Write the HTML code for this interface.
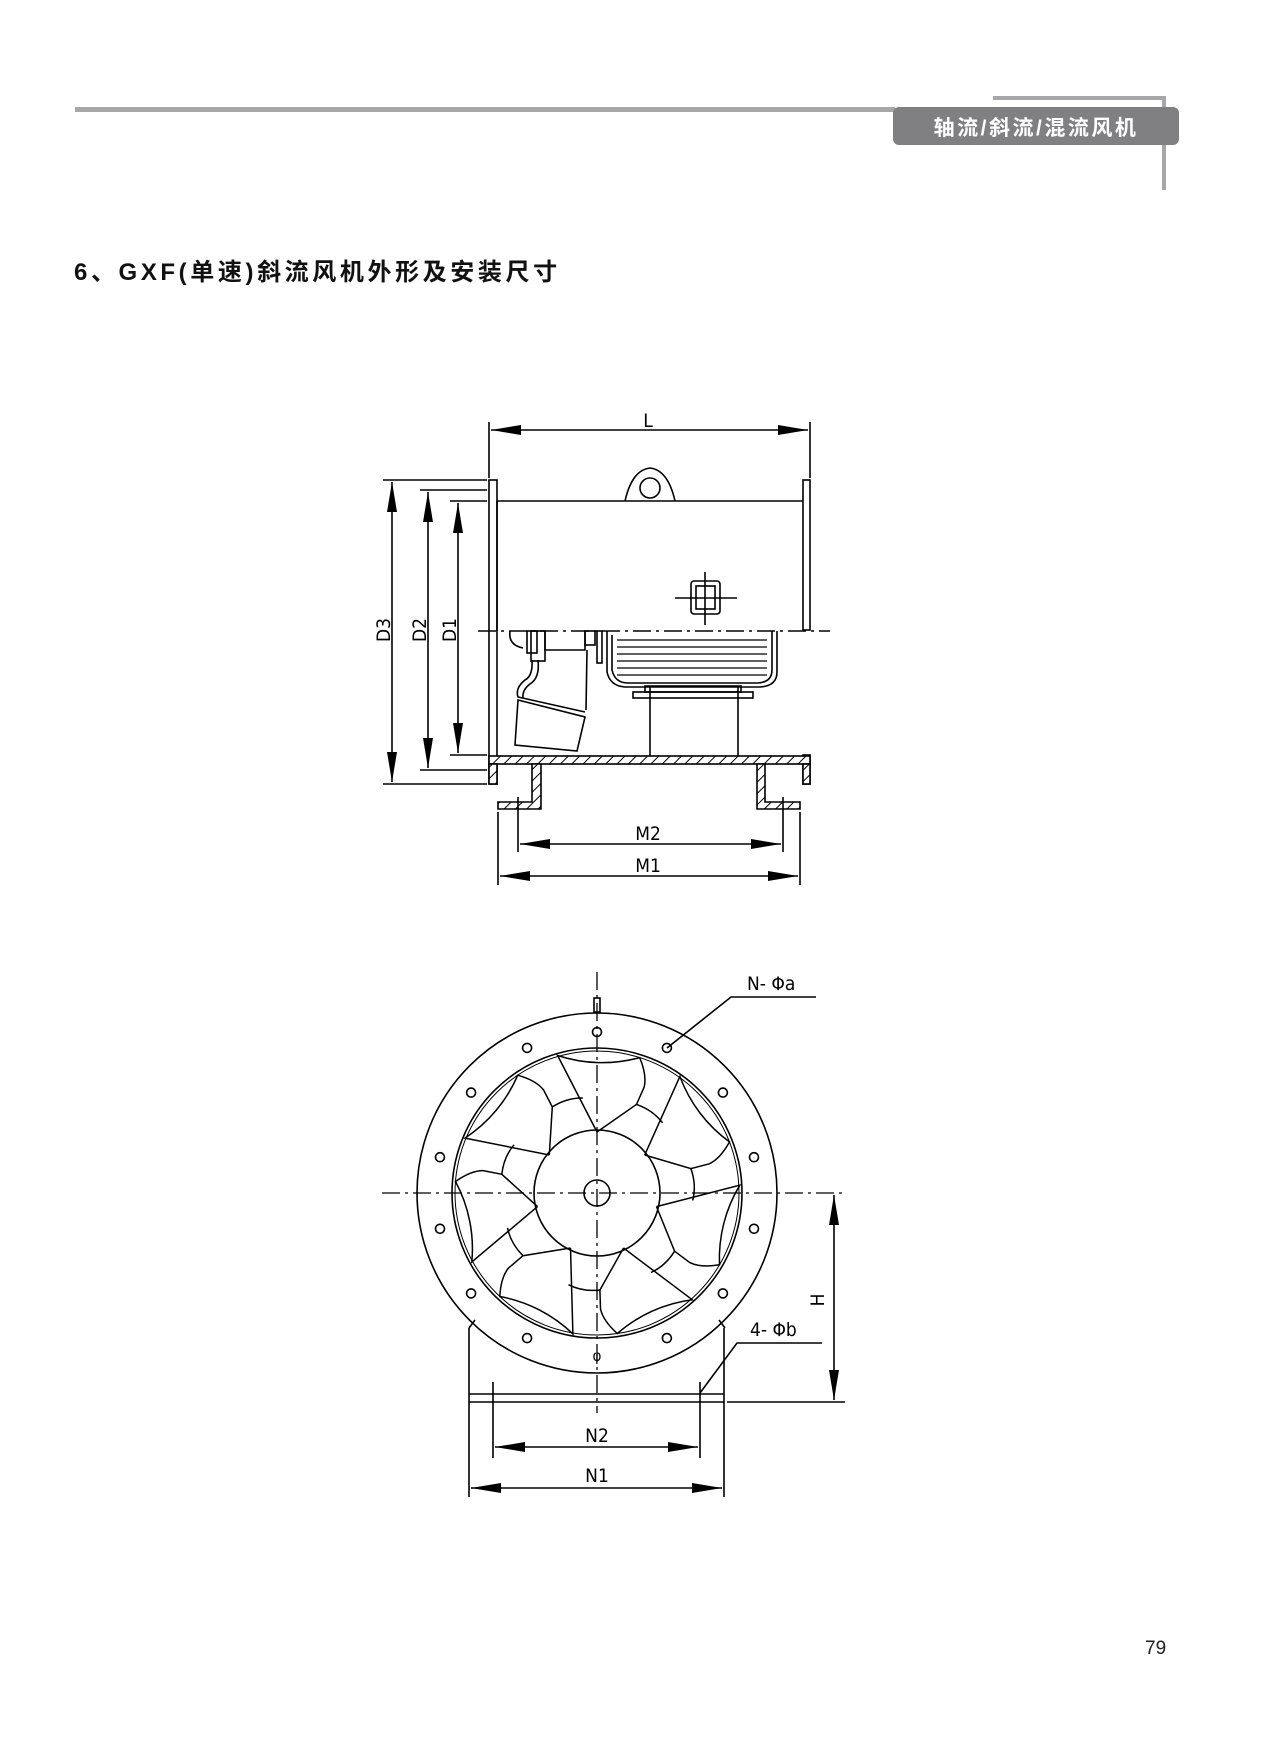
<!DOCTYPE html>
<html><head><meta charset="utf-8"><style>
body{margin:0;background:#fff;}
.p{position:relative;width:1276px;height:1754px;overflow:hidden;background:#fff;font-family:"Liberation Sans","Noto Sans CJK SC",sans-serif;}
</style></head><body><div class="p">
<svg width="1276" height="1754" viewBox="0 0 1276 1754" xmlns="http://www.w3.org/2000/svg" style="position:absolute;left:0;top:0">
<defs>
<pattern id="h" width="8" height="8" patternUnits="userSpaceOnUse" patternTransform="rotate(45)"><rect width="8" height="8" fill="#fff"/><line x1="0" y1="0" x2="0" y2="8" stroke="#000" stroke-width="2"/></pattern>
<marker id="a" viewBox="0 0 30 10" refX="30" refY="5" markerWidth="30" markerHeight="10" orient="auto-start-reverse" markerUnits="userSpaceOnUse"><path d="M0,0 L30,5 L0,10 z" fill="#000"/></marker>
</defs>
<!-- header -->
<rect x="75" y="107" width="820" height="5" fill="#a7a7a9"/>
<rect x="993" y="96" width="173" height="4" fill="#a7a7a9"/>
<rect x="1162" y="96" width="4" height="94" fill="#a7a7a9"/>
<rect x="893" y="107" width="286" height="38" rx="6" fill="#808083"/>
<text x="1036" y="135" font-size="21" font-weight="bold" fill="#fff" text-anchor="middle" letter-spacing="2.5" font-family="Liberation Sans,Noto Sans CJK SC,sans-serif">轴流/斜流/混流风机</text>
<text x="74" y="280" font-size="24" font-weight="bold" fill="#111" letter-spacing="3.6" font-family="Liberation Sans,Noto Sans CJK SC,sans-serif">6、GXF(单速)斜流风机外形及安装尺寸</text>
<text x="1145" y="1654" font-size="19" fill="#222" font-family="Liberation Sans,sans-serif">79</text>

<g stroke="#000" stroke-width="1.6" fill="none">
<!-- SIDE VIEW -->
<line x1="489" y1="422" x2="489" y2="478"/><line x1="810" y1="422" x2="810" y2="478"/>
<line x1="491" y1="430" x2="808" y2="430" marker-start="url(#a)" marker-end="url(#a)"/>
<rect x="489" y="480" width="8" height="304"/>
<rect x="803" y="480" width="7" height="150"/>
<rect x="803" y="755" width="7" height="29"/>
<line x1="497" y1="501" x2="803" y2="501"/>
<line x1="497" y1="501" x2="497" y2="631"/>
<path d="M625,501 Q632,470 650,468 Q668,470 675,501"/>
<circle cx="650" cy="488" r="10"/>
<rect x="691" y="581" width="29" height="33" rx="3"/><rect x="696" y="586" width="19" height="23"/>
<line x1="675" y1="598" x2="737" y2="598"/><line x1="705" y1="572" x2="705" y2="625"/>
<line x1="478" y1="631" x2="830" y2="631" stroke-dasharray="18,5,3,5"/>
<path d="M510,631 Q508,645 523,648"/>
<rect x="527" y="631" width="10" height="22"/><rect x="531" y="631" width="14" height="30"/>
<path d="M545,631 L545,650 L585,650 L585,631"/><rect x="585" y="631" width="10" height="14"/><rect x="597" y="631" width="5" height="32"/>
<path d="M532,660 Q533,676 525,680 Q515,688 518,697 L585,712"/>
<path d="M538,660 Q540,678 530,684 Q522,690 523,698"/>
<line x1="587" y1="650" x2="586" y2="710"/>
<path d="M518,700 L585,717 L577,751 L515,745 Z"/>
<path d="M607,631 L607,672 Q610,686 625,687 L760,687 Q777,686 777,672 L777,631"/>
<path d="M612,635 L612,670 Q615,683 628,683 L758,683 Q772,682 772,670 L772,631"/>
<g stroke-width="1.3">
<line x1="617" y1="640" x2="767" y2="640"/><line x1="617" y1="647" x2="767" y2="647"/><line x1="617" y1="654" x2="767" y2="654"/><line x1="617" y1="661" x2="767" y2="661"/><line x1="617" y1="668" x2="767" y2="668"/><line x1="617" y1="675" x2="767" y2="675"/>
</g>
<rect x="633" y="692" width="120" height="6"/><rect x="645" y="686" width="96" height="6"/>
<line x1="650" y1="686" x2="650" y2="756"/><line x1="738" y1="686" x2="738" y2="756"/>
<rect x="489" y="756" width="321" height="8" fill="url(#h)"/>
<rect x="489" y="764" width="8" height="20" fill="url(#h)"/>
<rect x="803" y="764" width="7" height="20" fill="url(#h)"/>
<path d="M532,764 L541,764 L541,809 L498,809 L498,802 L532,802 Z" fill="url(#h)"/>
<path d="M757,764 L765,764 L765,802 L800,802 L800,809 L757,809 Z" fill="url(#h)"/>
<line x1="518" y1="797" x2="518" y2="852"/><line x1="783" y1="797" x2="783" y2="852"/>
<line x1="498" y1="812" x2="498" y2="885"/><line x1="800" y1="812" x2="800" y2="885"/>
<line x1="520" y1="844" x2="781" y2="844" marker-start="url(#a)" marker-end="url(#a)"/>
<line x1="500" y1="876" x2="798" y2="876" marker-start="url(#a)" marker-end="url(#a)"/>
<line x1="383" y1="480" x2="487" y2="480"/><line x1="383" y1="784" x2="487" y2="784"/>
<line x1="420" y1="490" x2="487" y2="490"/><line x1="420" y1="770" x2="487" y2="770"/>
<line x1="450" y1="501" x2="487" y2="501"/><line x1="450" y1="755" x2="487" y2="755"/>
<line x1="392" y1="482" x2="392" y2="782" marker-start="url(#a)" marker-end="url(#a)"/>
<line x1="428" y1="492" x2="428" y2="768" marker-start="url(#a)" marker-end="url(#a)"/>
<line x1="458" y1="503" x2="458" y2="753" marker-start="url(#a)" marker-end="url(#a)"/>

<!-- FRONT VIEW -->
<line x1="597" y1="972" x2="597" y2="1413" stroke-dasharray="18,5,3,5" stroke-width="1.3"/>
<line x1="382" y1="1193" x2="845" y2="1193" stroke-dasharray="18,5,3,5" stroke-width="1.3"/>
<rect x="594" y="998" width="6" height="14"/>
<path d="M469,1328 L475,1320"/><path d="M725,1328 L719,1320"/>
<circle cx="597" cy="1193" r="180"/>
<circle cx="597" cy="1193" r="145"/>
<circle cx="597" cy="1193" r="142" stroke-width="1"/>
<circle cx="597" cy="1193" r="63"/>
<circle cx="597" cy="1193" r="13"/>
<g id="blades" stroke-width="1.5"></g>
<g id="holes"></g>
<line x1="469" y1="1328" x2="469" y2="1497"/><line x1="724" y1="1328" x2="724" y2="1497"/>
<line x1="469" y1="1394" x2="724" y2="1394"/><line x1="469" y1="1402" x2="724" y2="1402"/>
<line x1="493" y1="1382" x2="493" y2="1458"/><line x1="700" y1="1382" x2="700" y2="1458"/>
<line x1="495" y1="1447" x2="698" y2="1447" marker-start="url(#a)" marker-end="url(#a)"/>
<line x1="471" y1="1488" x2="722" y2="1488" marker-start="url(#a)" marker-end="url(#a)"/>
<line x1="727" y1="1402" x2="845" y2="1402"/>
<line x1="834" y1="1195" x2="834" y2="1400" marker-start="url(#a)" marker-end="url(#a)"/>
<polyline points="667,1048 731,997 816,997"/>
<polyline points="700,1393 737,1343 822,1343"/>
</g>
<g font-family="DejaVu Sans Condensed,Liberation Sans Narrow,Liberation Sans,sans-serif" font-size="19" fill="#000">
<text x="648" y="427" text-anchor="middle">L</text>
<text x="648" y="840" text-anchor="middle">M2</text>
<text x="648" y="872" text-anchor="middle">M1</text>
<text transform="translate(390,630) rotate(-90)" text-anchor="middle">D3</text>
<text transform="translate(426,630) rotate(-90)" text-anchor="middle">D2</text>
<text transform="translate(456,630) rotate(-90)" text-anchor="middle">D1</text>
<text x="597" y="1442" text-anchor="middle">N2</text>
<text x="597" y="1482" text-anchor="middle">N1</text>
<text transform="translate(824,1300) rotate(-90)" text-anchor="middle">H</text>
<text x="747" y="990">N- Φa</text>
<text x="750" y="1336">4- Φb</text>
<text x="597" y="1361" text-anchor="middle" font-size="15">φ</text>
</g>
</svg>
<script>
(function(){
var cx=597,cy=1193;
function P(r,a){a=a*Math.PI/180;return (cx+r*Math.cos(a)).toFixed(1)+','+(cy-r*Math.sin(a)).toFixed(1);}
var s='';
for(var i=0;i<7;i++){var o=i*360/7;
s+='<path d="M'+P(61,90+o)+' L'+P(143,106+o)+' A142,142 0 0 0 '+P(142,72.5+o)+' Q'+P(128,67+o)+' '+P(116,66+o)+' L'+P(97,66+o)+' L'+P(61,90+o)+'"/>';
s+='<path d="M'+P(97,66+o)+' Q'+P(100,56+o)+' '+P(96,47+o)+'"/>';}
document.getElementById('blades').innerHTML=s;
var hs='';
for(var j=0;j<14;j++){var a=90+j*360/14;if(Math.abs(a-270)<1)continue;var p=P(161,a).split(',');hs+='<circle cx="'+p[0]+'" cy="'+p[1]+'" r="4.5"/>';}
document.getElementById('holes').innerHTML=hs;
})();
</script>
</div></body></html>
